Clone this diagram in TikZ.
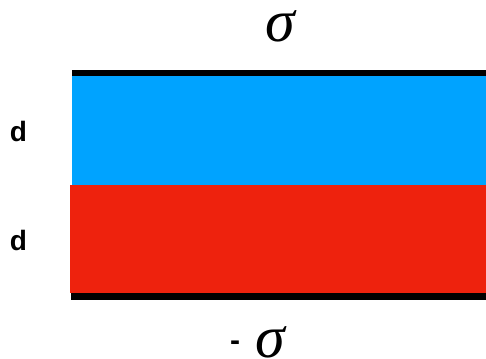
\documentclass[tikz,border=0pt]{standalone}
\usepackage{fontspec}
\newfontfamily\lsans{Liberation Sans}
\newfontfamily\lserif{Liberation Serif}
\definecolor{layerblue}{RGB}{0,163,255}
\definecolor{layerred}{RGB}{238,34,13}
\begin{document}
\begin{tikzpicture}[x=1pt,y=-1pt,
  layer/.style={inner sep=0pt,outer sep=0pt,anchor=north west},
  sig/.style={inner sep=0pt,anchor=base,text height=0.47em,text depth=0.01em,font=\lserif\itshape\fontsize{60}{60}\selectfont},
  dlab/.style={inner sep=0pt,anchor=base,text height=0.72em,text depth=0pt,font=\lsans\bfseries\fontsize{28}{28}\selectfont}]
\useasboundingbox (0,0) rectangle (486,358);
\node[layer,fill=black,minimum width=414pt,minimum height=6pt] (topplate) at (72,70) {};
\node[layer,fill=layerblue,minimum width=414pt,minimum height=109pt] (blue) at (72,76) {};
\node[layer,fill=layerred,minimum width=416pt,minimum height=108pt] (red) at (70,185) {};
\node[layer,fill=black,minimum width=415pt,minimum height=7pt] (botplate) at (71,293) {};
\node[sig] (sigtop) at (280,42) {σ};
\node[sig] (sigbot) at (270,357) {σ};
\node[inner sep=0pt,font=\lsans\bfseries\fontsize{30}{30}\selectfont] (minus) at (235,346) {-};
\node[dlab] (d1) at (18.5,142) {d};
\node[dlab] (d2) at (18.5,250) {d};
\end{tikzpicture}
\end{document}
